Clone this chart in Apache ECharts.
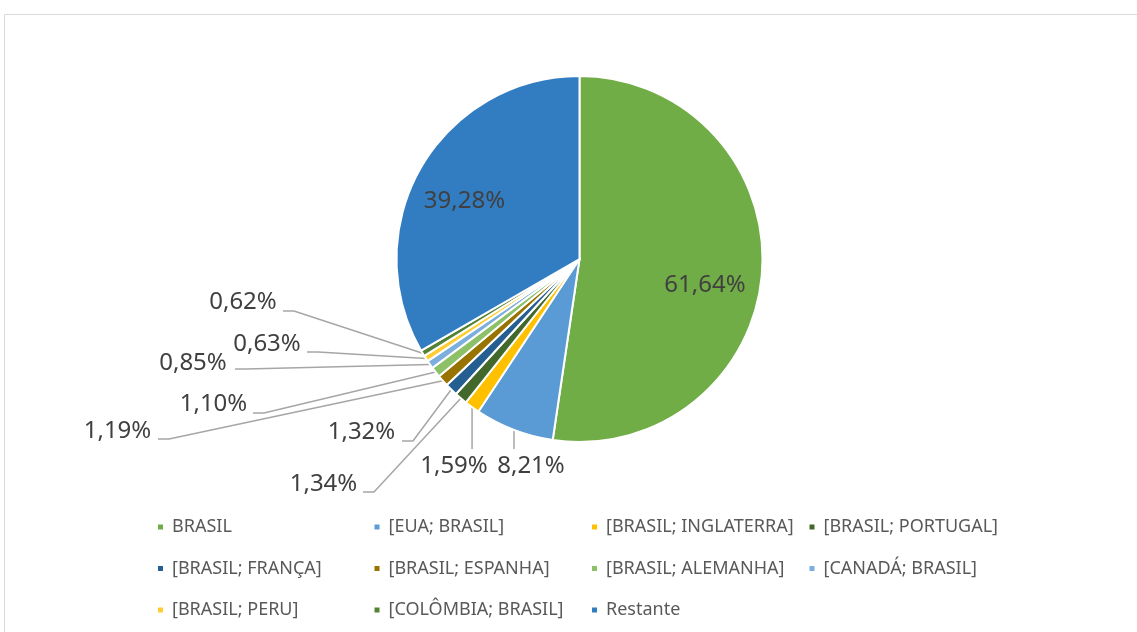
<!DOCTYPE html>
<html>
<head>
<meta charset="utf-8">
<title>Pie</title>
<script src="https://cdn.jsdelivr.net/npm/echarts@6/dist/echarts.min.js"></script>
<style>
  html, body { margin: 0; padding: 0; background: #fff; }
  #main { width: 1137px; height: 632px; }
</style>
</head>
<body>
<div id="main"></div>
<script>
// dados
var categories = ['BRASIL', '[EUA; BRASIL]', '[BRASIL; INGLATERRA]', '[BRASIL; PORTUGAL]',
  '[BRASIL; FRANÇA]', '[BRASIL; ESPANHA]', '[BRASIL; ALEMANHA]', '[CANADÁ; BRASIL]',
  '[BRASIL; PERU]', '[COLÔMBIA; BRASIL]', 'Restante'];
var values = [61.64, 8.21, 1.59, 1.34, 1.32, 1.19, 1.10, 0.85, 0.63, 0.62, 39.28];
var colors = ['#70AD47', '#5B9BD5', '#FFC000', '#43682B', '#255E91', '#997300',
  '#8CC168', '#7CAFDD', '#FFCD33', '#548235', '#327CC1'];

// colunas da legenda (como no Excel)
var legendCols = [
  ['BRASIL', '[BRASIL; FRANÇA]', '[BRASIL; PERU]'],
  ['[EUA; BRASIL]', '[BRASIL; ESPANHA]', '[COLÔMBIA; BRASIL]'],
  ['[BRASIL; INGLATERRA]', '[BRASIL; ALEMANHA]', 'Restante'],
  ['[BRASIL; PORTUGAL]', '[CANADÁ; BRASIL]']
];
var legendLeft = [156, 372.5, 590, 807.5];

// posição dos rótulos (centro do texto) e fim da linha guia
var labelPos = [[705, 285], [531, 466], [454, 466], [323.5, 484], [361.5, 432.5], [117.5, 431],
  [213.5, 404], [193, 363], [267, 344], [243, 302.5], [464.5, 201]];
var lineEnd = [null, [null, 449], [null, 449], [363, 492], [402, 441], [158, 439],
  [253, 413], [235, 369], [307, 352], [283, 311], null];

var CX = 579.5, CY = 259, R = 183;
var total = values.reduce(function (a, b) { return a + b; }, 0);

function edgePoint(i) {
  var before = 0;
  for (var j = 0; j < i; j++) before += values[j];
  var a = (before + values[i] / 2) / total * Math.PI * 2;
  return [CX + R * Math.sin(a), CY - R * Math.cos(a)];
}

var pieData = [];
for (var i = 0; i < values.length; i++) {
  var item = { name: categories[i], value: values[i], itemStyle: { color: colors[i] } };
  if (lineEnd[i] == null) {
    item.label = { position: 'inside' };
    item.labelLine = { show: false };
  }
  pieData.push(item);
}

var legends = legendCols.map(function (col, k) {
  return {
    orient: 'vertical',
    left: legendLeft[k],
    top: 517,
    padding: 0,
    itemWidth: 7,
    itemHeight: 7,
    itemGap: 21.5,
    icon: 'rect',
    selectedMode: false,
    data: col,
    textStyle: { fontFamily: 'Noto Sans', fontSize: 18, color: '#595959', lineHeight: 20, padding: [0, 0, 0, 3] }
  };
});

var myChart = echarts.init(document.getElementById('main'));
myChart.setOption({
  animation: false,
  backgroundColor: '#fff',
  graphic: [{
    type: 'rect',
    shape: { x: 4.5, y: 14.5, width: 1200, height: 700 },
    style: { fill: 'none', stroke: '#D9D9D9', lineWidth: 1 },
    silent: true
  }],
  legend: legends,
  series: [{
    type: 'pie',
    center: [CX, CY],
    radius: R,
    startAngle: 90,
    clockwise: true,
    avoidLabelOverlap: false,
    itemStyle: { borderColor: '#fff', borderWidth: 2 },
    label: {
      show: true,
      position: 'outside',
      fontFamily: 'Noto Sans',
      fontSize: 24,
      color: '#404040',
      formatter: function (p) { return p.value.toFixed(2).replace('.', ',') + '%'; }
    },
    labelLine: { show: true, lineStyle: { color: '#A6A6A6', width: 1.5 } },
    labelLayout: function (params) {
      var i = params.dataIndex;
      var out = { x: labelPos[i][0], y: labelPos[i][1], align: 'center', verticalAlign: 'middle' };
      var e = lineEnd[i];
      if (e) {
        var p0 = edgePoint(i);
        if (e[0] == null) {
          out.labelLinePoints = [p0, [p0[0], (p0[1] + e[1]) / 2], [p0[0], e[1]]];
        } else {
          out.labelLinePoints = [p0, [e[0] + 11, e[1]], [e[0], e[1]]];
        }
      }
      return out;
    },
    emphasis: { disabled: true },
    data: pieData
  }]
});
</script>
</body>
</html>
